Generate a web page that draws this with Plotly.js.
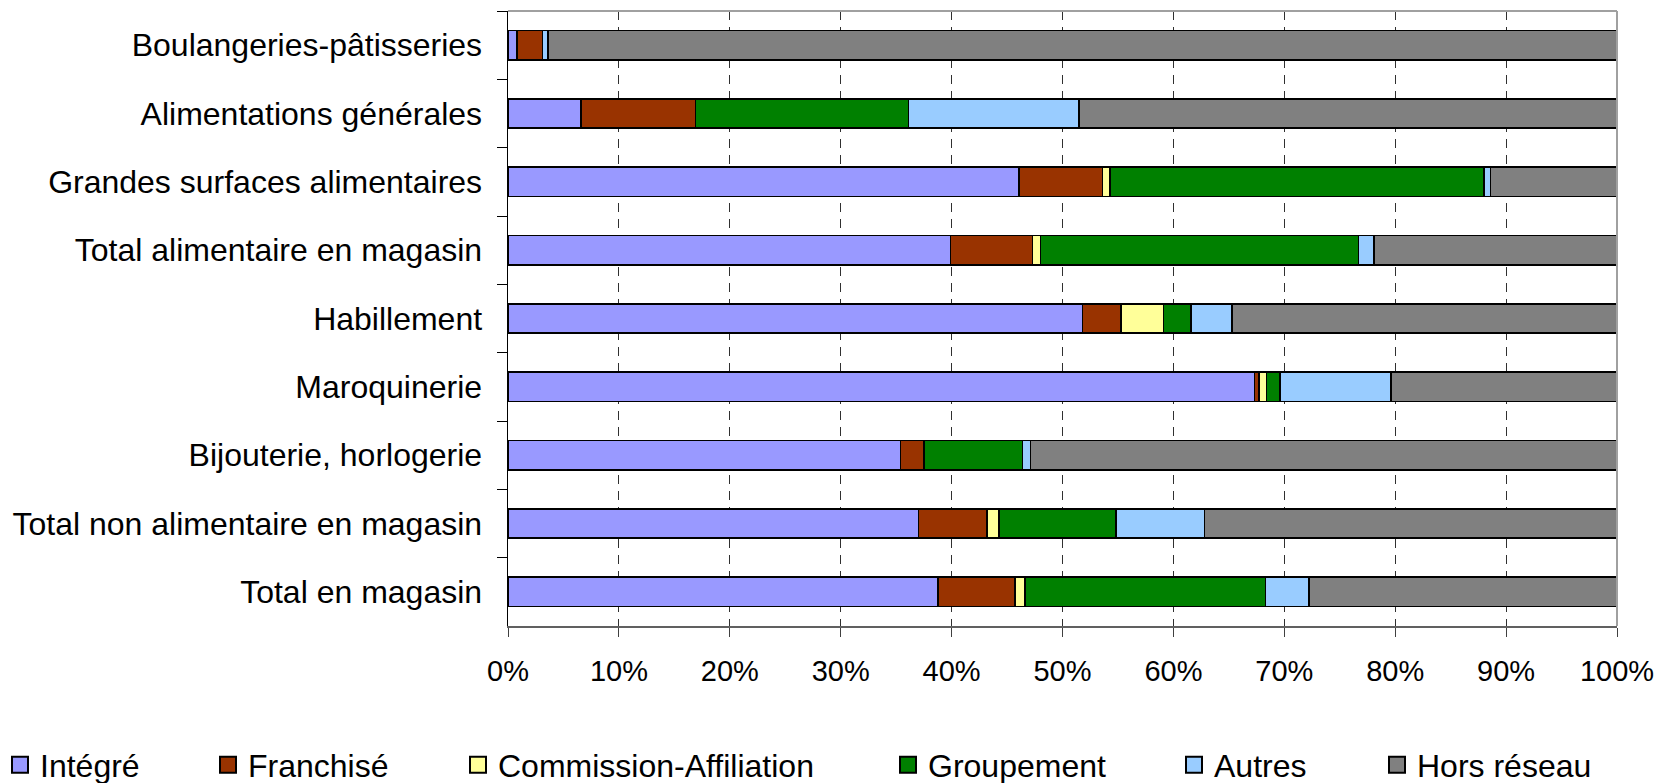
<!DOCTYPE html>
<html>
<head>
<meta charset="utf-8">
<script src="https://cdn.plot.ly/plotly-3.0.1.min.js"></script>
<style>
  html, body { margin: 0; padding: 0; background: #ffffff; }
  #chart { width: 1668px; height: 783px; }
</style>
</head>
<body>
<div id="chart"></div>
<script>
// Categories, top to bottom
const categories = [
  "Boulangeries-pâtisseries",
  "Alimentations générales",
  "Grandes surfaces alimentaires",
  "Total alimentaire en magasin",
  "Habillement",
  "Maroquinerie",
  "Bijouterie, horlogerie",
  "Total non alimentaire en magasin",
  "Total en magasin"
];

// Shares (%) by network type
const integre    = [0.8, 6.6, 46.1, 39.9, 51.8, 67.3, 35.4, 37.0, 38.8];
const franchise  = [2.3, 10.3, 7.5, 7.4, 3.5, 0.4, 2.1, 6.2, 6.9];
const commission = [0.0, 0.0, 0.7, 0.7, 3.8, 0.7, 0.0, 1.1, 0.9];
const groupement = [0.0, 19.2, 33.7, 28.7, 2.5, 1.2, 8.9, 10.5, 21.7];
const autres     = [0.5, 15.4, 0.6, 1.4, 3.7, 10.0, 0.7, 8.0, 3.9];
const horsReseau = [96.4, 48.5, 11.4, 21.9, 34.7, 20.4, 52.9, 37.2, 27.8];

const seriesNames = ["Intégré", "Franchisé", "Commission-Affiliation", "Groupement", "Autres", "Hors réseau"];
const xTickVals = [0, 10, 20, 30, 40, 50, 60, 70, 80, 90, 100];

const seriesValues = [integre, franchise, commission, groupement, autres, horsReseau];
const colors = ["#9999FF", "#993300", "#FFFF99", "#008000", "#99CCFF", "#808080"];
const legendIds = ["legend", "legend2", "legend3", "legend4", "legend5", "legend6"];
const legendTextX = [40, 248, 498, 928, 1214, 1417];

const FONT = "'Liberation Sans', Arial, sans-serif";

const barTraces = seriesNames.map((name, i) => ({
  type: "bar",
  orientation: "h",
  name: name,
  y: categories,
  x: seriesValues[i],
  marker: { color: colors[i], line: { color: "#000000", width: 1.6 } },
  showlegend: false,
  hovertemplate: "%{y}<br>" + name + ": %{x:.1f}%<extra></extra>"
}));

// Legend-only entries (square swatches like the original)
const legendTraces = seriesNames.map((name, i) => ({
  type: "scatter",
  mode: "markers",
  name: name,
  x: [null],
  y: [null],
  marker: { symbol: "square", size: 16, color: colors[i], line: { color: "#000000", width: 2 } },
  legend: legendIds[i],
  showlegend: true,
  hoverinfo: "skip"
}));

const layout = {
  width: 1668,
  height: 783,
  paper_bgcolor: "#ffffff",
  plot_bgcolor: "#ffffff",
  barmode: "stack",
  bargap: 0.57,
  margin: { l: 508, r: 51, t: 11, b: 157 },
  font: { family: FONT, color: "#000000" },
  xaxis: {
    range: [0, 100],
    tickvals: xTickVals,
    ticktext: xTickVals.map(v => v + "%"),
    ticks: "outside",
    ticklen: 9,
    tickwidth: 1,
    tickcolor: "#404040",
    showline: true,
    linecolor: "#606060",
    linewidth: 1.5,
    showgrid: true,
    gridcolor: "#303030",
    gridwidth: 1,
    griddash: "9px,7px",
    zeroline: false,
    tickfont: { family: FONT, size: 29, color: "#000000" },
    ticklabelstandoff: 10,
    fixedrange: true
  },
  yaxis: {
    type: "category",
    autorange: "reversed",
    ticks: "outside",
    tickson: "boundaries",
    ticklen: 10,
    tickwidth: 1,
    tickcolor: "#000000",
    showline: true,
    linecolor: "#000000",
    linewidth: 1.5,
    showgrid: false,
    zeroline: false,
    tickfont: { family: FONT, size: 32, color: "#000000" },
    ticklabelstandoff: 18,
    fixedrange: true
  },
  shapes: [
    { type: "line", xref: "paper", yref: "paper", x0: 1, x1: 1, y0: 0, y1: 1,
      line: { color: "#a0a0a0", width: 2 } },
    { type: "line", xref: "paper", yref: "paper", x0: 0, x1: 1, y0: 1, y1: 1,
      line: { color: "#a0a0a0", width: 2 } }
  ],
  showlegend: true
};

legendIds.forEach((id, i) => {
  layout[id] = {
    orientation: "h",
    xref: "container",
    yref: "container",
    x: (legendTextX[i] - 40) / 1668,
    xanchor: "left",
    y: 1 - 765 / 783,
    yanchor: "middle",
    bgcolor: "rgba(0,0,0,0)",
    borderwidth: 0,
    font: { family: FONT, size: 32, color: "#000000" }
  };
});

Plotly.newPlot("chart", barTraces.concat(legendTraces), layout, { displayModeBar: false, staticPlot: true });
</script>
</body>
</html>
